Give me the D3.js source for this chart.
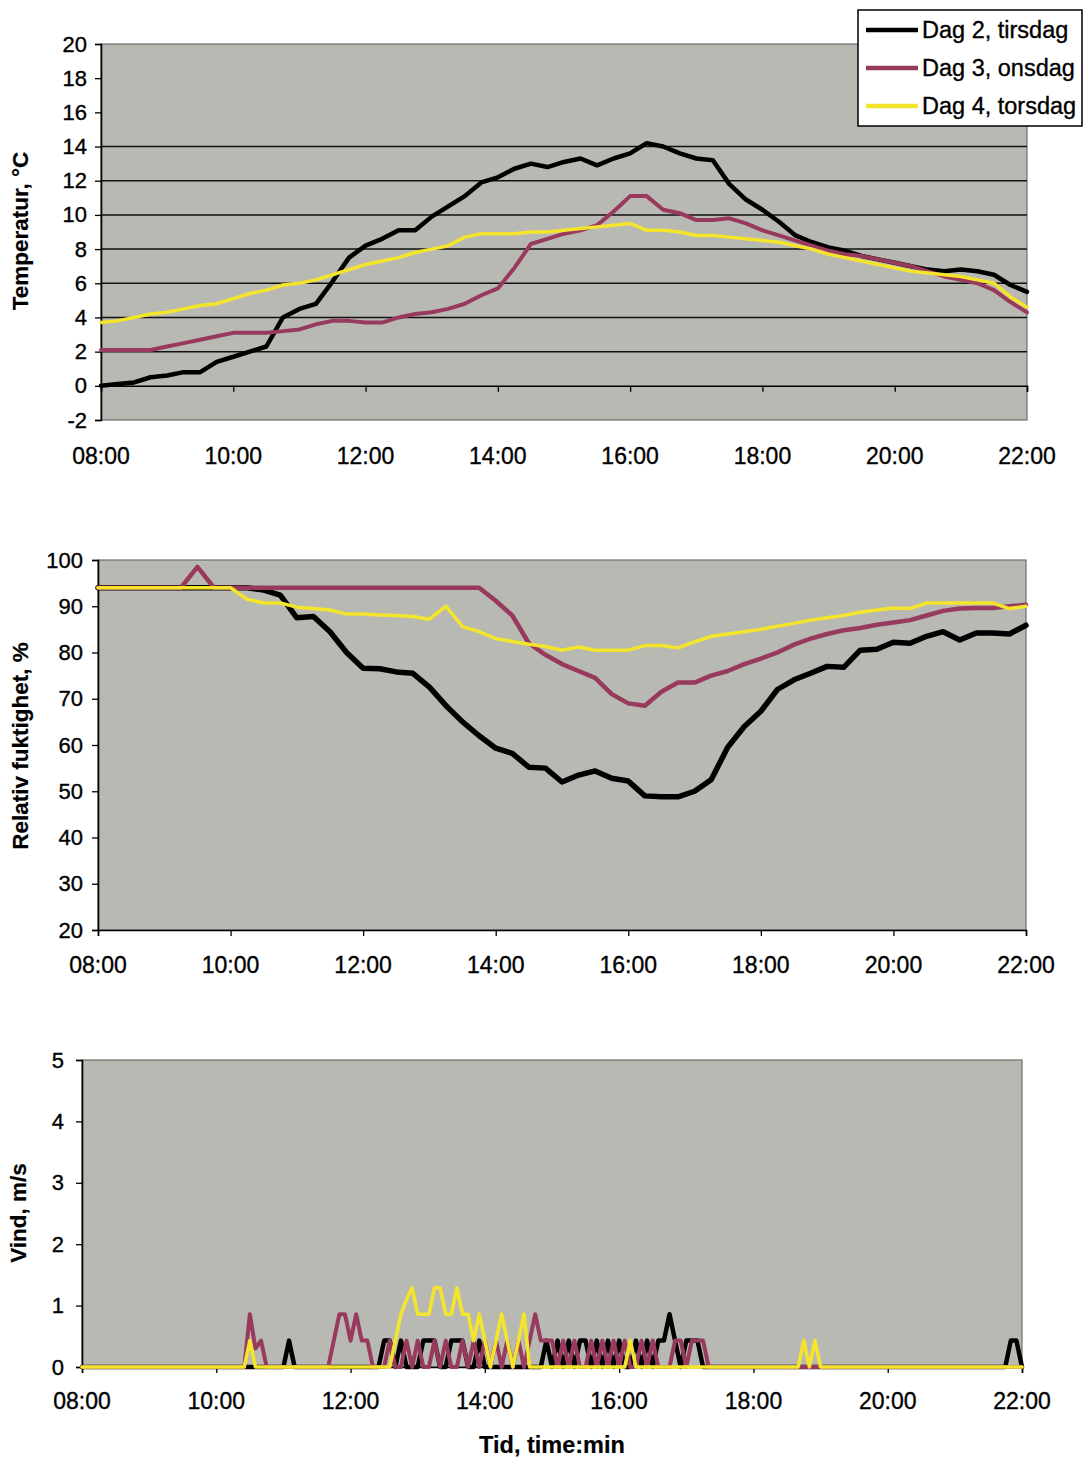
<!DOCTYPE html>
<html>
<head>
<meta charset="utf-8">
<script src="https://cdn.jsdelivr.net/npm/d3@7"></script>
<style>
html,body{margin:0;padding:0;background:#fff;}
svg{display:block;font-family:"Liberation Sans",Arial,sans-serif;}
</style>
</head>
<body>
<svg id="chart" width="1084" height="1458"></svg>
<script>
// ---------- DATA ----------
const seriesNames = ["Dag 2, tirsdag", "Dag 3, onsdag", "Dag 4, torsdag"];
const timeTickLabels = ["08:00","10:00","12:00","14:00","16:00","18:00","20:00","22:00"];
const tempTicks = [-2,0,2,4,6,8,10,12,14,16,18,20];
const tempGrid = [2,4,6,8,10,12,14];
const rhTicks = [20,30,40,50,60,70,80,90,100];
const windTicks = [0,1,2,3,4,5];

// temperature & humidity: one reading every 15 min, 08:00-22:00
const tempStepMin = 15;
const tempDag2 = [0.0,0.1,0.2,0.5,0.6,0.8,0.8,1.4,1.7,2.0,2.3,4.0,4.5,4.8,6.1,7.5,8.2,8.6,9.1,9.1,
  9.9,10.5,11.1,11.9,12.2,12.7,13.0,12.8,13.1,13.3,12.9,13.3,13.6,14.2,14.0,13.6,13.3,13.2,11.8,10.9,
  10.3,9.6,8.8,8.4,8.1,7.9,7.6,7.4,7.2,7.0,6.8,6.7,6.8,6.7,6.5,5.9,5.5];
const tempDag3 = [2.1,2.1,2.1,2.1,2.3,2.5,2.7,2.9,3.1,3.1,3.1,3.2,3.3,3.6,3.8,3.8,3.7,3.7,4.0,4.2,
  4.3,4.5,4.8,5.3,5.7,6.9,8.3,8.6,8.9,9.1,9.4,10.2,11.1,11.1,10.3,10.1,9.7,9.7,9.8,9.5,
  9.1,8.8,8.5,8.2,7.9,7.7,7.6,7.4,7.2,7.0,6.7,6.4,6.2,6.0,5.6,4.9,4.3];
const tempDag4 = [3.7,3.8,4.0,4.2,4.3,4.5,4.7,4.8,5.1,5.4,5.6,5.9,6.0,6.2,6.5,6.8,7.1,7.3,7.5,7.8,
  8.0,8.2,8.7,8.9,8.9,8.9,9.0,9.0,9.1,9.2,9.3,9.4,9.5,9.1,9.1,9.0,8.8,8.8,8.7,8.6,
  8.5,8.4,8.2,8.0,7.7,7.5,7.3,7.1,6.9,6.7,6.6,6.5,6.4,6.2,6.0,5.2,4.6];

const rhDag2 = [94,94,94,94,94,94,94,94,94,94,93.5,92.4,87.5,87.8,84.5,80,76.6,76.5,75.8,75.5,
  72.5,68.5,65,62,59.3,58.2,55.2,55.0,52,53.5,54.4,52.8,52.2,49,48.8,48.8,50,52.5,59.5,64,
  67.3,72,74.1,75.5,77,76.8,80.5,80.7,82.2,82,83.5,84.5,82.7,84.2,84.2,84,85.9];
const rhDag3 = [94,94,94,94,94,94,98.5,94,94,94,94,94,94,94,94,94,94,94,94,94,
  94,94,94,94,91.2,88,82,79.5,77.5,76,74.5,71,69,68.5,71.5,73.5,73.5,75,76,77.5,
  78.7,80,81.7,83,84,84.8,85.3,86,86.5,87,88,89,89.5,89.6,89.6,90,90.3];
const rhDag4 = [94,94,94,94,94,94,94,94,94,91.5,90.7,90.7,89.8,89.5,89.2,88.3,88.3,88.1,88,87.8,
  87.2,90,85.6,84.5,83,82.4,81.8,81.3,80.5,81.2,80.5,80.5,80.5,81.5,81.5,81,82.3,83.5,84,84.5,
  85,85.7,86.3,87,87.5,88,88.7,89.2,89.6,89.5,90.7,90.7,90.7,90.7,90.7,89.5,90];

// wind: one reading every 5 min, 08:00-22:00 (12 per row = 1 hour)
const windStepMin = 5;
const windDag2 = [
  0,0,0,0,0,0,0,0,0,0,0,0,          // 08
  0,0,0,0,0,0,0,0,0,0,0,0,          // 09
  0,0,0,0,0,0,0,0,0,0,0,0,          // 10
  0,0.43,0,0,0,0,0,0,0,0,0,0,       // 11
  0,0,0,0,0,0,0.43,0.43,0,0.43,0,0, // 12
  0,0.43,0.43,0.43,0,0,0.43,0.43,0.43,0,0,0.43, // 13
  0,0,0,0,0,0,0,0,0,0,0,0.43,       // 14
  0,0.43,0,0.43,0,0.43,0.43,0,0.43,0,0.43,0, // 15
  0.43,0,0,0.43,0,0.43,0,0.43,0.43,0.86,0.43,0, // 16
  0.43,0.43,0.43,0,0,0,0,0,0,0,0,0, // 17
  0,0,0,0,0,0,0,0,0,0,0,0,          // 18
  0,0,0,0,0,0,0,0,0,0,0,0,          // 19
  0,0,0,0,0,0,0,0,0,0,0,0,          // 20
  0,0,0,0,0,0,0,0,0,0,0.43,0.43,    // 21
  0];
const windDag3 = [
  0,0,0,0,0,0,0,0,0,0,0,0,          // 08
  0,0,0,0,0,0,0,0,0,0,0,0,          // 09
  0,0,0,0,0,0,0.86,0.3,0.43,0,0,0,  // 10
  0,0,0,0,0,0,0,0,0,0.43,0.86,0.86, // 11
  0.43,0.86,0.43,0.43,0,0,0,0.43,0,0,0.43,0, // 12
  0.43,0,0,0.43,0,0.43,0,0,0.43,0,0.43,0, // 13
  0.43,0,0.43,0,0.43,0,0.43,0,0.43,0.86,0.43,0.43, // 14
  0.43,0,0.43,0,0.43,0,0,0.43,0,0.43,0,0.43, // 15
  0,0.43,0,0,0.43,0,0.43,0,0,0,0.43,0.43, // 16
  0,0.43,0.43,0.43,0,0,0,0,0,0,0,0, // 17
  0,0,0,0,0,0,0,0,0,0,0,0,          // 18
  0,0,0,0,0,0,0,0,0,0,0,0,          // 19
  0,0,0,0,0,0,0,0,0,0,0,0,          // 20
  0,0,0,0,0,0,0,0,0,0,0,0,          // 21
  0];
const windDag4 = [
  0,0,0,0,0,0,0,0,0,0,0,0,          // 08
  0,0,0,0,0,0,0,0,0,0,0,0,          // 09
  0,0,0,0,0,0,0.43,0,0,0,0,0,       // 10
  0,0,0,0,0,0,0,0,0,0,0,0,          // 11
  0,0,0,0,0,0,0,0,0.43,0.86,1.1,1.29, // 12
  0.86,0.86,0.86,1.29,1.29,0.86,0.86,1.29,0.86,0.86,0.43,0.86, // 13
  0.43,0,0.43,0.86,0.43,0,0.43,0.86,0,0,0,0, // 14
  0,0,0,0,0,0,0,0,0,0,0,0,          // 15
  0,0,0.43,0,0,0,0,0,0,0,0,0,       // 16
  0,0,0,0,0,0,0,0,0,0,0,0,          // 17
  0,0,0,0,0,0,0,0,0,0.43,0,0.43,    // 18
  0,0,0,0,0,0,0,0,0,0,0,0,          // 19
  0,0,0,0,0,0,0,0,0,0,0,0,          // 20
  0,0,0,0,0,0,0,0,0,0,0,0,          // 21
  0];

// ---------- DRAW ----------
const colors = ["#000000", "#983a5e", "#f4e52c"];
const svg = d3.select("#chart");
const FONT = '"Liberation Sans", Arial, sans-serif';
const bg = "#b9b9b3";

function styleText(sel, size, bold) {
  sel.attr("font-family", FONT).attr("font-size", size).attr("fill", "#000")
    .attr("font-weight", bold ? "bold" : "normal")
    .attr("stroke", "#000").attr("stroke-width", bold ? 0.2 : 0.35);
}

function panel(cfg) {
  const x = d3.scaleLinear().domain([0, 840]).range([cfg.left, cfg.right]);
  const y = d3.scaleLinear().domain(cfg.yDomain).range([cfg.bottom, cfg.top]);
  const g = svg.append("g");

  g.append("rect").attr("x", cfg.left).attr("y", cfg.top)
    .attr("width", cfg.right - cfg.left).attr("height", cfg.bottom - cfg.top)
    .attr("fill", bg).attr("stroke", "#6e6e6a").attr("stroke-width", 1.2);

  (cfg.grid || []).forEach(v => {
    g.append("line").attr("x1", cfg.left).attr("x2", cfg.right)
      .attr("y1", y(v)).attr("y2", y(v)).attr("stroke", "#111").attr("stroke-width", 1.5);
  });

  const yAxis = d3.axisLeft(y).tickValues(cfg.yTicks).tickSize(6).tickPadding(cfg.yPad).tickFormat(d => String(d));
  const ya = g.append("g").attr("transform", `translate(${cfg.left},0)`).call(yAxis);
  ya.select(".domain").attr("stroke", "#000").attr("stroke-width", 1.6);
  ya.selectAll(".tick line").attr("stroke", "#000").attr("stroke-width", 1.3);
  styleText(ya.selectAll(".tick text"), 22, false);

  const xAxisY = y(cfg.xCross);
  const xAxis = d3.axisBottom(x).tickValues(d3.range(0, 841, 120)).tickSize(6).tickFormat("");
  const xa = g.append("g").attr("transform", `translate(0,${xAxisY})`).call(xAxis);
  xa.select(".domain").attr("stroke", "#000").attr("stroke-width", 1.6);
  xa.selectAll(".tick line").attr("stroke", "#000").attr("stroke-width", 1.3);

  const xl = g.selectAll(".xl").data(timeTickLabels).enter().append("text")
    .attr("x", (d, i) => x(i * 120)).attr("y", cfg.xLabelY)
    .attr("text-anchor", "middle").attr("dominant-baseline", "central").text(d => d);
  styleText(xl, 23, false);

  const t = g.append("text").attr("transform", `translate(${cfg.titleX},${cfg.titleY}) rotate(-90)`)
    .attr("text-anchor", "middle").attr("dominant-baseline", "central").text(cfg.title);
  styleText(t, 22.5, true);

  const line = d3.line().x((d, i) => x(i * cfg.step)).y(d => y(d));
  cfg.series.forEach((s, k) => {
    g.append("path").attr("d", line(s)).attr("fill", "none")
      .attr("stroke", colors[k]).attr("stroke-width", cfg.widths[k])
      .attr("stroke-linejoin", "round").attr("stroke-linecap", "round");
  });
}

panel({left: 101, right: 1027, top: 44, bottom: 420, yDomain: [-2, 20], yTicks: tempTicks,
  grid: tempGrid, xCross: 0, xLabelY: 456, yPad: 8, title: "Temperatur, °C", titleX: 20, titleY: 231,
  step: tempStepMin, series: [tempDag2, tempDag3, tempDag4], widths: [4.5, 4, 3.5]});

panel({left: 98, right: 1026, top: 560, bottom: 930, yDomain: [20, 100], yTicks: rhTicks,
  grid: [], xCross: 20, xLabelY: 965, yPad: 9, title: "Relativ fuktighet, %", titleX: 20, titleY: 746,
  step: tempStepMin, series: [rhDag2, rhDag3, rhDag4], widths: [5.5, 4.5, 3.5]});

panel({left: 82, right: 1022, top: 1060, bottom: 1367, yDomain: [0, 5], yTicks: windTicks,
  grid: [], xCross: 0, xLabelY: 1401, yPad: 12, title: "Vind, m/s", titleX: 18, titleY: 1213,
  step: windStepMin, series: [windDag2, windDag3, windDag4], widths: [4.5, 4, 3.6]});

const tid = svg.append("text").attr("x", 552).attr("y", 1445).attr("text-anchor", "middle")
  .attr("dominant-baseline", "central").text("Tid, time:min");
styleText(tid, 23.5, true);

// legend
const lg = svg.append("g");
lg.append("rect").attr("x", 858).attr("y", 10).attr("width", 224).attr("height", 116)
  .attr("fill", "#fff").attr("stroke", "#000").attr("stroke-width", 1.5);
seriesNames.forEach((n, k) => {
  const yy = 30 + k * 38;
  lg.append("line").attr("x1", 866).attr("x2", 918).attr("y1", yy).attr("y2", yy)
    .attr("stroke", colors[k]).attr("stroke-width", 4.5);
  const tx = lg.append("text").attr("x", 922).attr("y", yy).attr("dominant-baseline", "central").text(n);
  styleText(tx, 23.5, false);
});
</script>
</body>
</html>
